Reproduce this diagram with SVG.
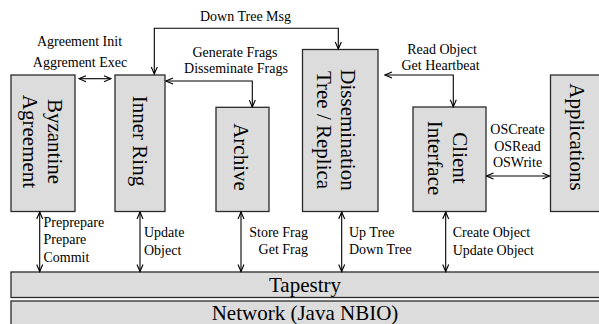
<svg xmlns="http://www.w3.org/2000/svg" width="599" height="324" viewBox="0 0 599 324">
<defs>
<style>
.box{fill:#dcdcdc;stroke:#2a2a2a;stroke-width:1.3}
.bt{font-family:"Liberation Serif","Times New Roman",serif;font-size:21px;fill:#000;text-anchor:middle}
.lb{font-family:"Liberation Serif","Times New Roman",serif;font-size:14px;fill:#000}
.c{text-anchor:middle}
.e{text-anchor:end}
.ln{fill:none;stroke:#000;stroke-width:1.1;marker-end:url(#ah)}
.dbl{marker-start:url(#ah)}
</style>
<marker id="ah" viewBox="-9 -5 10 10" refX="0" refY="0" markerWidth="10" markerHeight="10" markerUnits="userSpaceOnUse" orient="auto-start-reverse">
<path d="M-7,-3 L0,0 L-7,3" fill="none" stroke="#000" stroke-width="1.1"/>
</marker>
</defs>
<rect width="599" height="324" fill="#fff"/>

<g id="byzantine">
<rect class="box" x="11" y="75" width="64" height="136.5"/>
<text class="bt" transform="translate(43,141.5) rotate(90)"><tspan x="0" y="-5">Byzantine</tspan><tspan x="0" y="20">Agreement</tspan></text>
</g>
<g id="inner-ring">
<rect class="box" x="115" y="75" width="50" height="136.5"/>
<text class="bt" transform="translate(140,141) rotate(90)"><tspan x="0" y="7">Inner Ring</tspan></text>
</g>
<g id="archive">
<rect class="box" x="216" y="107.3" width="53" height="104.2"/>
<text class="bt" transform="translate(242,157) rotate(90)"><tspan x="0" y="8">Archive</tspan></text>
</g>
<g id="dissemination">
<rect class="box" x="302.5" y="49.5" width="75.5" height="162"/>
<text class="bt" transform="translate(340,130) rotate(90)"><tspan x="0" y="-1">Dissemination</tspan><tspan x="0" y="23">Tree / Replica</tspan></text>
</g>
<g id="client-interface">
<rect class="box" x="413" y="107" width="73" height="104.5"/>
<text class="bt" transform="translate(449,158) rotate(90)"><tspan x="0" y="-4">Client</tspan><tspan x="0" y="21">Interface</tspan></text>
</g>
<g id="applications">
<rect class="box" x="550.5" y="75" width="60" height="136.5"/>
<text class="bt" transform="translate(575,137) rotate(90)"><tspan x="0" y="5">Applications</tspan></text>
</g>
<g id="tapestry">
<rect class="box" x="11" y="272" width="600" height="25.5"/>
<text class="bt" x="305" y="291.5">Tapestry</text>
</g>
<g id="network">
<rect class="box" x="11" y="301" width="600" height="30"/>
<text class="bt" x="305" y="320">Network (Java NBIO)</text>
</g>

<g id="connectors">
<path class="ln dbl" d="M154.3,74 L154.3,28.3 L338.3,28.3 L338.3,49"/>
<path class="ln dbl" d="M79,78.7 L111,78.7"/>
<path class="ln dbl" d="M166,81 L252.3,81 L252.3,107"/>
<path class="ln dbl" d="M385,75 L453.3,75 L453.3,106.7"/>
<path class="ln dbl" d="M486.5,176 L549.5,176"/>
<path class="ln dbl" d="M39.7,212 L39.7,271.5"/>
<path class="ln dbl" d="M140,212 L140,271.5"/>
<path class="ln dbl" d="M241,212 L241,271.5"/>
<path class="ln dbl" d="M341.7,212 L341.7,271.5"/>
<path class="ln dbl" d="M445.7,212 L445.7,271.5"/>
</g>

<g id="labels">
<text class="lb c" x="245.5" y="20.7">Down Tree Msg</text>
<text class="lb c" x="79.5" y="46">Agreement Init</text>
<text class="lb c" x="80" y="66.5">Aggrement Exec</text>
<text class="lb c" x="235" y="57">Generate Frags</text>
<text class="lb c" x="236" y="72.5">Disseminate Frags</text>
<text class="lb c" x="442" y="54">Read Object</text>
<text class="lb c" x="440.5" y="70">Get Heartbeat</text>
<text class="lb c" x="517.5" y="134">OSCreate</text>
<text class="lb c" x="517.5" y="150.7">OSRead</text>
<text class="lb c" x="517.5" y="167.3">OSWrite</text>
<text class="lb" x="43.5" y="226.5">Preprepare</text>
<text class="lb" x="43.5" y="243.5">Prepare</text>
<text class="lb" x="43.5" y="261.5">Commit</text>
<text class="lb" x="144" y="236.7">Update</text>
<text class="lb" x="144" y="255">Object</text>
<text class="lb e" x="308" y="236.7">Store Frag</text>
<text class="lb e" x="308" y="254.3">Get Frag</text>
<text class="lb" x="349" y="236.7">Up Tree</text>
<text class="lb" x="349" y="254.3">Down Tree</text>
<text class="lb" x="452.7" y="236.7">Create Object</text>
<text class="lb" x="452.7" y="255">Update Object</text>
</g>
</svg>
